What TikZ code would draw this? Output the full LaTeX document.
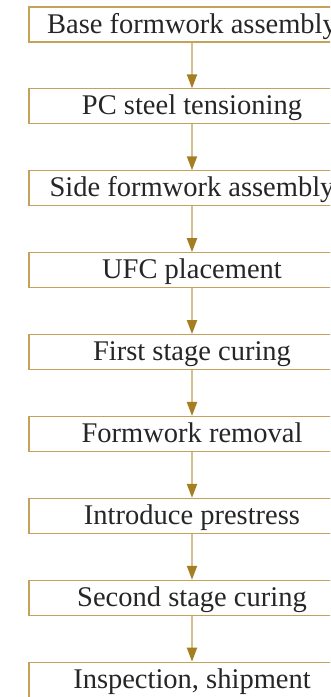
\documentclass[tikz,border=0pt]{standalone}
\usepackage{fontspec}
\setmainfont{Liberation Serif}
\usetikzlibrary{arrows.meta,positioning}
\definecolor{boxgold}{RGB}{196,162,92}
\definecolor{shaftgold}{RGB}{214,192,140}
\definecolor{headgold}{RGB}{166,126,34}
\begin{document}
\begin{tikzpicture}[x=1pt,y=1pt,font=\fontsize{28.5pt}{32pt}\selectfont,
    node distance=45.8pt,
    stage/.style={draw=boxgold,line width=1.1pt,minimum width=326pt,
        minimum height=35pt,inner sep=0pt,text height=17pt,text depth=0pt,
        text=black!85},
    flow/.style={draw=shaftgold,line width=2pt,
        -{Triangle[width=10pt,length=14pt,color=headgold]}}]
  \clip (0,0) rectangle (330,-697);
  \node[stage] (base) at (192,-24.5) {Base formwork assembly};
  \node[stage,below=of base] (tension) {PC steel tensioning};
  \node[stage,below=of tension] (side) {Side formwork assembly};
  \node[stage,below=of side] (ufc) {UFC placement};
  \node[stage,below=of ufc] (cure1) {First stage curing};
  \node[stage,below=of cure1] (removal) {Formwork removal};
  \node[stage,below=of removal] (prestress) {Introduce prestress};
  \node[stage,below=of prestress] (cure2) {Second stage curing};
  \node[stage,below=of cure2] (ship) {Inspection, shipment};
  \draw[flow] (base) -- (tension);
  \draw[flow] (tension) -- (side);
  \draw[flow] (side) -- (ufc);
  \draw[flow] (ufc) -- (cure1);
  \draw[flow] (cure1) -- (removal);
  \draw[flow] (removal) -- (prestress);
  \draw[flow] (prestress) -- (cure2);
  \draw[flow] (cure2) -- (ship);
\end{tikzpicture}
\end{document}
